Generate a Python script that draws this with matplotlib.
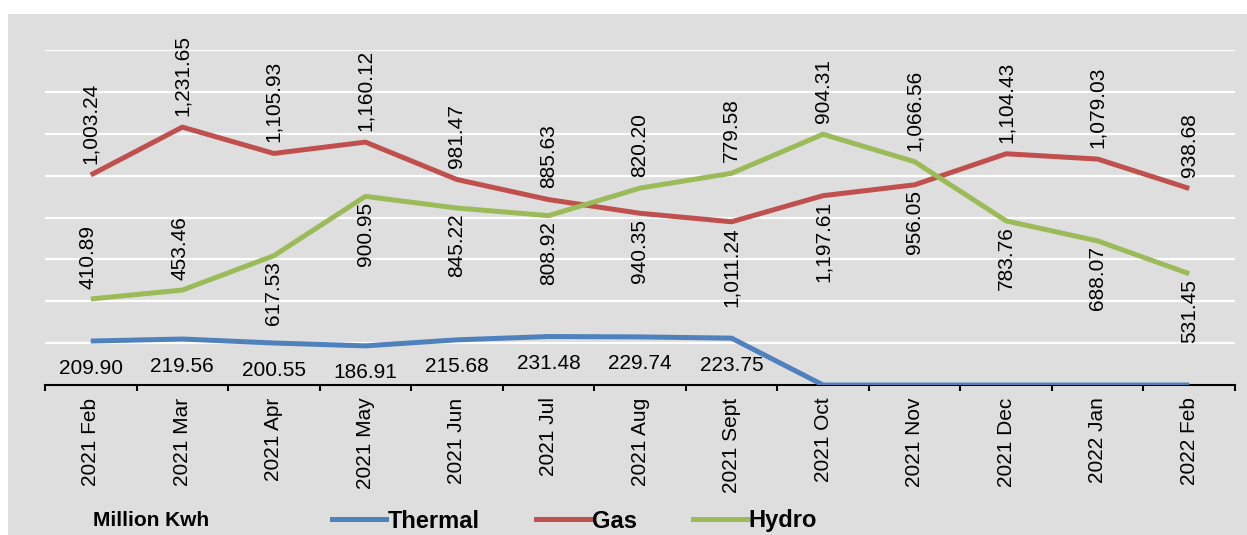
import matplotlib
matplotlib.use("Agg")
import matplotlib.pyplot as plt
from matplotlib.patches import Rectangle
from matplotlib.lines import Line2D
import numpy as np

plt.rcParams['font.family'] = ['Liberation Sans', 'DejaVu Sans']

months = ["2021 Feb", "2021 Mar", "2021 Apr", "2021 May", "2021 Jun", "2021 Jul",
          "2021 Aug", "2021 Sept", "2021 Oct", "2021 Nov", "2021 Dec", "2022 Jan", "2022 Feb"]
thermal = [209.90, 219.56, 200.55, 186.91, 215.68, 231.48, 229.74, 223.75, 0, 0, 0, 0, 0]
gas = [1003.24, 1231.65, 1105.93, 1160.12, 981.47, 885.63, 820.20, 779.58, 904.31,
       956.05, 1104.43, 1079.03, 938.68]
hydro = [410.89, 453.46, 617.53, 900.95, 845.22, 808.92, 940.35, 1011.24, 1197.61,
         1066.56, 783.76, 688.07, 531.45]
# data-label texts as they appear on the chart (upper row / middle row)
upper_labels = [1003.24, 1231.65, 1105.93, 1160.12, 981.47, 885.63, 820.20, 779.58, 904.31,
                1066.56, 1104.43, 1079.03, 938.68]
middle_labels = [410.89, 453.46, 617.53, 900.95, 845.22, 808.92, 940.35, 1011.24, 1197.61,
                 956.05, 783.76, 688.07, 531.45]

C_TH = "#4F81BD"
C_GAS = "#C0504D"
C_HY = "#9BBB59"

W, H = 1247, 535
fig = plt.figure(figsize=(W / 100, H / 100), dpi=100)
fig.patch.set_facecolor("white")
fig.patches.append(Rectangle((8 / W, 0), 1 - 8 / W, 1 - 14 / H, transform=fig.transFigure,
                             facecolor="#dedede", edgecolor="none", zorder=-10))

ax = fig.add_axes([45 / W, 1 - 385 / H, (1235 - 45) / W, (385 - 50) / H])
ax.set_zorder(2)
ax.set_facecolor("none")
x = np.arange(len(months))
ax.set_xlim(-0.5, len(months) - 0.5)
ax.set_ylim(0, 1600)

for v in range(200, 1601, 200):
    ax.axhline(v, color="white", lw=1.6, zorder=1)

ax.plot(x, thermal, color=C_TH, lw=3.6, zorder=3, solid_capstyle="butt")
ax.plot(x, gas, color=C_GAS, lw=3.6, zorder=3, solid_capstyle="butt")
ax.plot(x, hydro, color=C_HY, lw=3.6, zorder=3, solid_capstyle="butt")

fs = 15
for i in range(len(months)):
    top = max(gas[i], hydro[i])
    low = min(gas[i], hydro[i])
    ax.annotate(f"{upper_labels[i]:,.2f}", (x[i], top), xytext=(0, 8), textcoords="offset points",
                rotation=90, ha="center", va="bottom", fontsize=fs, annotation_clip=False)
    if gas[i] - hydro[i] > 550:
        ax.annotate(f"{middle_labels[i]:,.2f}", (x[i] - 0.03, hydro[i]), xytext=(0, 7),
                    textcoords="offset points", rotation=90, ha="center", va="bottom",
                    fontsize=fs, annotation_clip=False)
    else:
        ax.annotate(f"{middle_labels[i]:,.2f}", (x[i], low), xytext=(0, -4),
                    textcoords="offset points", rotation=90, ha="center", va="top",
                    fontsize=fs, annotation_clip=False)
    if thermal[i] != 0:
        ax.annotate(f"{thermal[i]:,.2f}", (x[i], thermal[i]), xytext=(0, -19.5),
                    textcoords="offset points", ha="center", va="center",
                    fontsize=fs, annotation_clip=False)

for s in ["left", "right", "top"]:
    ax.spines[s].set_visible(False)
ax.spines["bottom"].set_color("black")
ax.spines["bottom"].set_linewidth(1.5)
ax.set_yticks([])
ax.set_xticks(x)
ax.set_xticklabels(months, rotation=90, fontsize=fs)
ax.tick_params(axis="x", which="major", length=0, pad=9)
ax.set_xticks(np.arange(-0.5, len(months), 1), minor=True)
ax.tick_params(axis="x", which="minor", length=4.5, width=1.5, direction="out", color="black")

fig.text(93 / W, 1 - 521 / H, "Million Kwh", fontsize=15, fontweight="bold", ha="left", va="center")
handles = [Line2D([], [], color=C_TH, lw=3.6), Line2D([], [], color=C_GAS, lw=3.6),
           Line2D([], [], color=C_HY, lw=3.6)]
leg = fig.legend(handles, ["Thermal", "Gas", "Hydro"], loc="center left",
                 bbox_to_anchor=(332 / W, 1 - 521 / H), ncol=3, frameon=False,
                 prop={"weight": "bold", "size": 17}, handlelength=2.3, handletextpad=0.05,
                 columnspacing=2.4, borderpad=0, borderaxespad=0)

fig.savefig("out.png", dpi=100, facecolor=fig.get_facecolor())
